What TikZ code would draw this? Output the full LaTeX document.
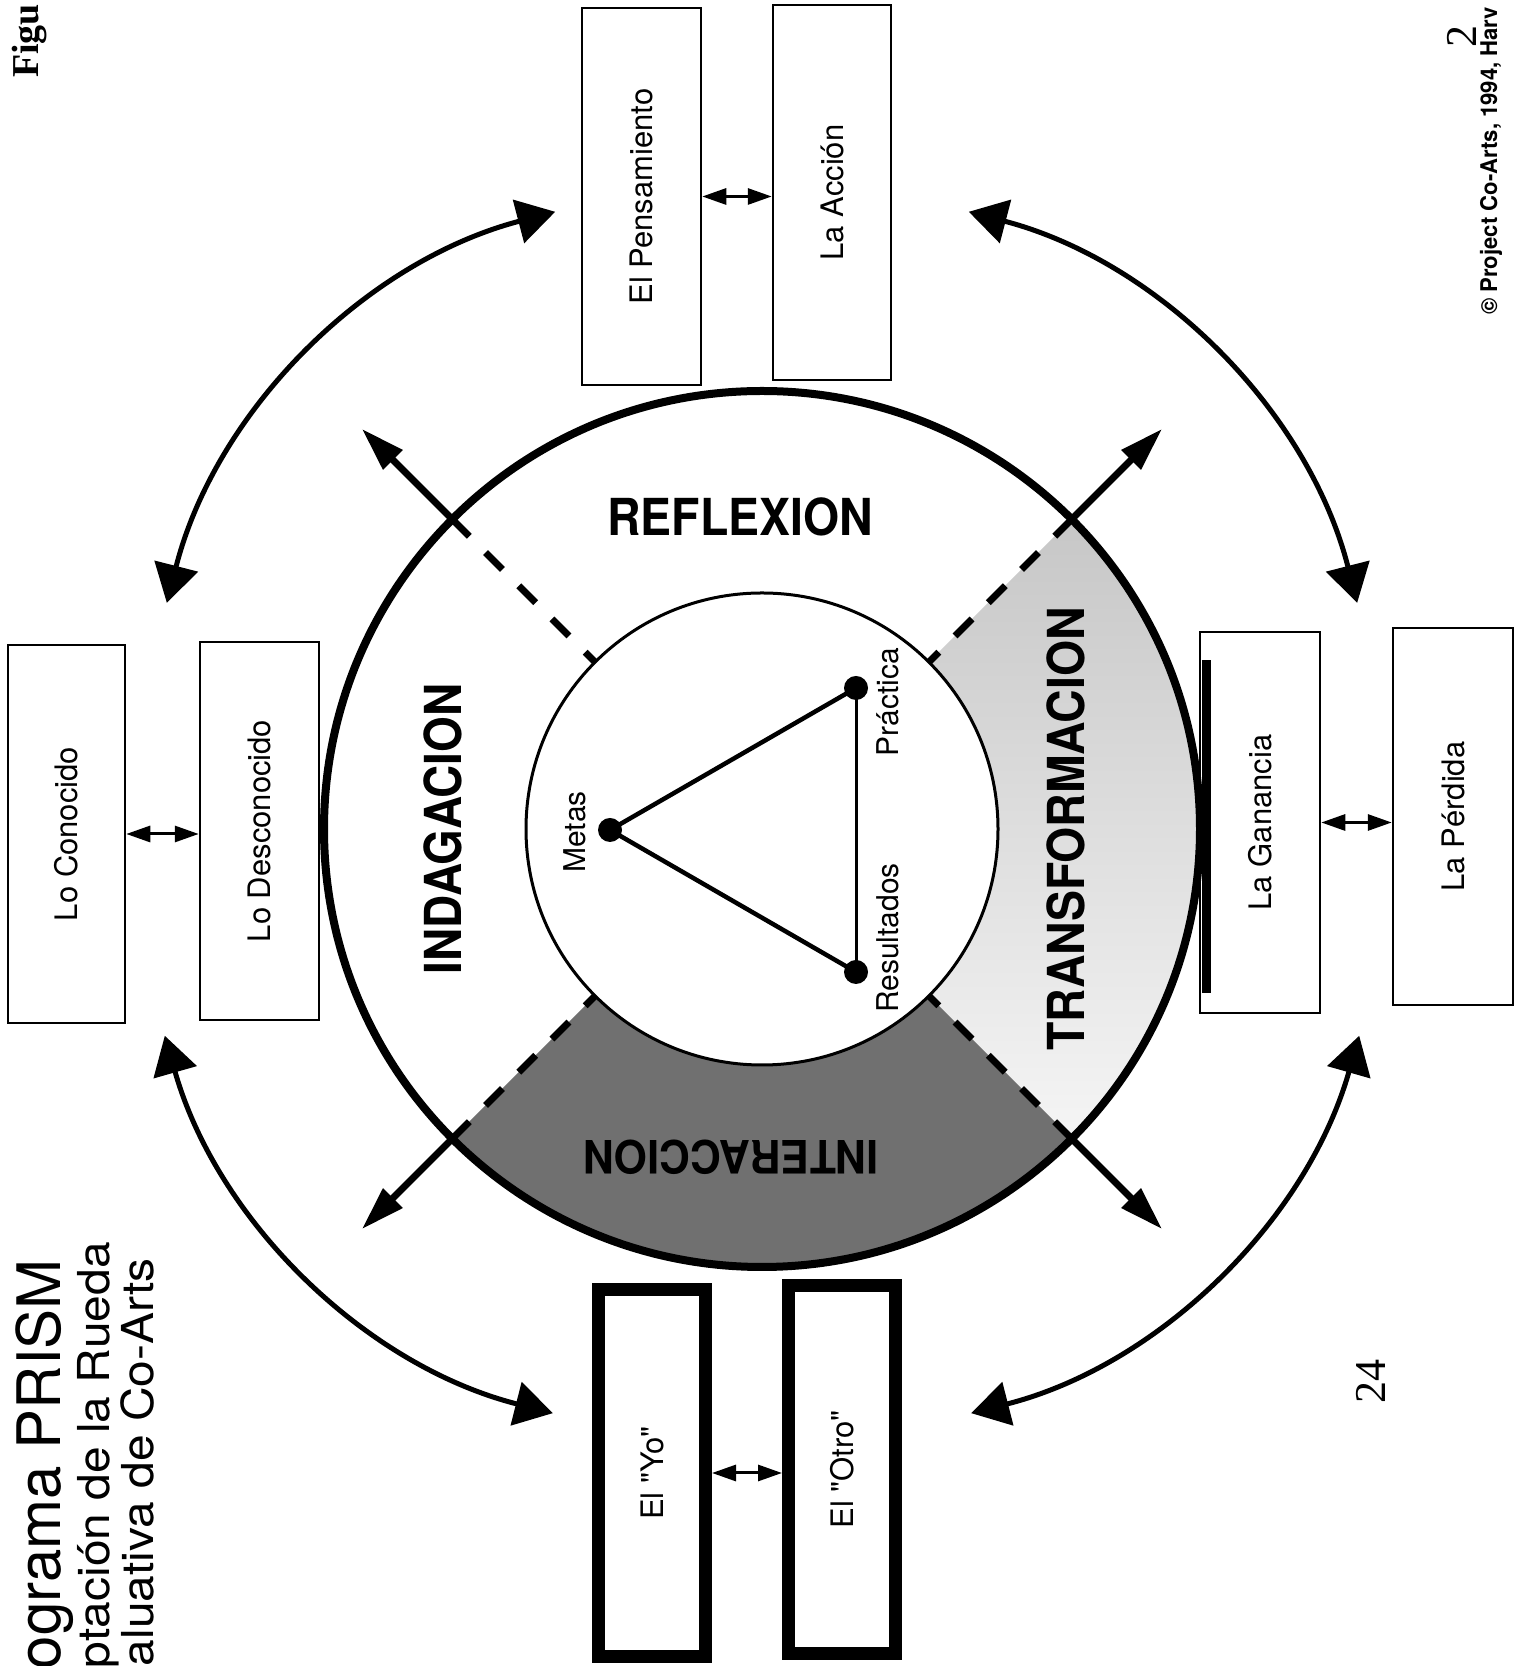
\documentclass[tikz,border=0pt]{standalone}
\usepackage{fontspec}
\usepackage{graphicx}
\setmainfont{TeX Gyre Heros}
\newfontfamily\serifrm{Liberation Serif}
\usetikzlibrary{arrows.meta,calc}
\newcommand\bxfont{\fontsize{31}{37}\selectfont}
\newcommand\ringfont{\fontsize{51}{60}\selectfont\bfseries}
\newcommand\trifont{\fontsize{30}{36}\selectfont}
\begin{document}
\begin{tikzpicture}[x=1pt,y=1pt,
  box/.style={draw, line width=2.5pt, inner sep=0pt, font=\bxfont},
  thickbox/.style={draw, line width=13pt, inner sep=0pt, font=\bxfont},
  smallarr/.style={line width=3pt, {Triangle[length=24pt,width=16pt]}-{Triangle[length=24pt,width=16pt]}},
  bigarr/.style={line width=5pt, {Triangle[length=38pt,width=44pt]}-{Triangle[length=38pt,width=44pt]}},
  diagarr/.style={line width=7pt, -{Triangle[length=44pt,width=26pt]}},
  dashline/.style={line width=7pt, dash pattern=on 24pt off 23pt, dash phase=24pt},
  dot/.style={circle, fill=black, inner sep=0pt, minimum size=24pt},
  ringlabel/.style={font=\ringfont}]
\useasboundingbox (0,0) rectangle (1526,1666);
\fill[white] (0,0) rectangle (1526,1666);

\coordinate (C) at (762,837);

% shaded sectors
\shade[top color=black!22, bottom color=black!4]
  ($(C)+(-45:438pt)$) arc[start angle=-45, end angle=45, radius=438pt]
  -- ($(C)+(45:236pt)$) arc[start angle=45, end angle=-45, radius=236pt] -- cycle;
\fill[black!56]
  ($(C)+(225:438pt)$) arc[start angle=225, end angle=315, radius=438pt]
  -- ($(C)+(315:236pt)$) arc[start angle=315, end angle=225, radius=236pt] -- cycle;

% circles
\draw[line width=8pt] (C) circle[radius=438pt];
\draw[line width=3pt, fill=white] (C) circle[radius=236pt];

% diagonal arrows
\foreach \a in {45,135,225,315} {
  \coordinate (din\a) at ($(C)+(\a:236pt)$);
  \coordinate (dmid\a) at ($(C)+(\a:414pt)$);
  \coordinate (dtip\a) at ($(C)+(\a:566pt)$);
  \draw[dashline] (dmid\a) -- (din\a);
  \draw[diagarr] (dmid\a) -- (dtip\a);
}

% ring labels
\node[ringlabel] (reflexion) at (740,1149) {\scalebox{0.91}[1]{REFLEXION}};
\node[ringlabel, rotate=90] (indagacion) at (443,837) {\scalebox{0.9}[1]{INDAGACION}};
\node[ringlabel, rotate=90] (transformacion) at (1066,837) {\scalebox{0.91}[1]{TRANSFORMACION}};
\node[font=\fontsize{46}{54}\selectfont\bfseries, rotate=180] (interaccion) at (731,509) {\scalebox{0.93}[1]{INTERACCION}};

% triangle
\node[dot] (metas) at (610,836) {};
\node[dot] (practica) at (856,978) {};
\node[dot] (resultados) at (856,694) {};
\draw[line width=4.5pt] (practica.center) -- (metas.center) -- (resultados.center);
\draw[line width=3pt] (practica.center) -- (resultados.center);
\node[font=\trifont, rotate=90] (lmetas) at (575,834) {Metas};
\node[font=\trifont, rotate=90] (lpractica) at (888,964) {Práctica};
\node[font=\trifont, rotate=90] (lresultados) at (888,728) {Resultados};

% boxes
\node[box, minimum width=117pt, minimum height=378pt] (conocido) at (66.5,832) {\rotatebox{90}{Lo Conocido}};
\node[box, minimum width=119pt, minimum height=378pt] (desconocido) at (259.5,835) {\rotatebox{90}{Lo Desconocido}};
\node[box, minimum width=119pt, minimum height=377pt] (pensamiento) at (641.5,1469.5) {\rotatebox{90}{El Pensamiento}};
\node[box, minimum width=118pt, minimum height=375pt] (accion) at (832,1473.5) {\rotatebox{90}{La Acción}};
\node[box, minimum width=120pt, minimum height=381pt] (ganancia) at (1260,843.5) {\rotatebox{90}{La Ganancia}};
\node[box, minimum width=120pt, minimum height=377pt] (perdida) at (1453,849.5) {\rotatebox{90}{La Pérdida}};
\node[thickbox, minimum width=107pt, minimum height=367pt] (yo) at (652,193) {\rotatebox{90}{El \textquotedbl Yo\textquotedbl}};
\node[thickbox, minimum width=107pt, minimum height=368pt] (otro) at (842,196.5) {\rotatebox{90}{El \textquotedbl Otro\textquotedbl}};
\draw[line width=9pt] ([xshift=8pt]ganancia.west |- 0,673) -- ([xshift=8pt]ganancia.west |- 0,1006);

% small arrows between boxes
\draw[smallarr] (conocido.east) -- (conocido.east -| desconocido.west);
\draw[smallarr] (pensamiento.east) -- (pensamiento.east -| accion.west);
\draw[smallarr] (ganancia.east) -- (ganancia.east -| perdida.west);
\draw[smallarr] (yo.east) -- (yo.east -| otro.west);

% big curved arrows
\coordinate (ctl) at (693,929);
\coordinate (ctr) at (831,929);
\coordinate (cbl) at (687,779);
\coordinate (cbr) at (837,779);
\coordinate (tl1) at ($(ctl)+(104.7:543pt)$);
\coordinate (tr1) at ($(ctr)+(75.3:543pt)$);
\coordinate (bl1) at ($(cbl)+(195.9:543pt)$);
\coordinate (br1) at ($(cbr)+(344.1:543pt)$);
\draw[bigarr] (tl1) arc[start angle=104.7, end angle=165.7, radius=543pt];
\draw[bigarr] (tr1) arc[start angle=75.3, end angle=14.3, radius=543pt];
\draw[bigarr] (bl1) arc[start angle=195.9, end angle=255.7, radius=543pt];
\draw[bigarr] (br1) arc[start angle=344.1, end angle=284.3, radius=543pt];

% titles and page marks
\node[rotate=90, anchor=base east, inner sep=0pt, font=\fontsize{60}{66}\selectfont] (t1) at (60,407) {ograma PRISM};
\node[rotate=90, anchor=base east, inner sep=0pt, font=\fontsize{44}{50}\selectfont] (t2) at (109,424) {\scalebox{1.09}[1]{ptación de la Rueda}};
\node[rotate=90, anchor=base east, inner sep=0pt, font=\fontsize{44}{50}\selectfont] (t3) at (153,408) {\scalebox{1.09}[1]{aluativa de Co-Arts}};
\node[rotate=90, anchor=base west, inner sep=0pt, font=\fontsize{23}{27}\selectfont\bfseries] (copy) at (1497,1351) {\scalebox{0.96}[1]{© Project Co-Arts, 1994, Harv}};
\node[rotate=90, anchor=base west, inner sep=0pt, font=\serifrm\bfseries\fontsize{38}{44}\selectfont] (figu) at (38,1588) {Figu};
\node[rotate=90, inner sep=0pt, font=\serifrm\fontsize{44}{50}\selectfont] (pg2) at (1462,1629) {2};
\node[rotate=90, inner sep=0pt, font=\serifrm\fontsize{44}{50}\selectfont] (pg24) at (1371,284) {24};
\end{tikzpicture}
\end{document}
